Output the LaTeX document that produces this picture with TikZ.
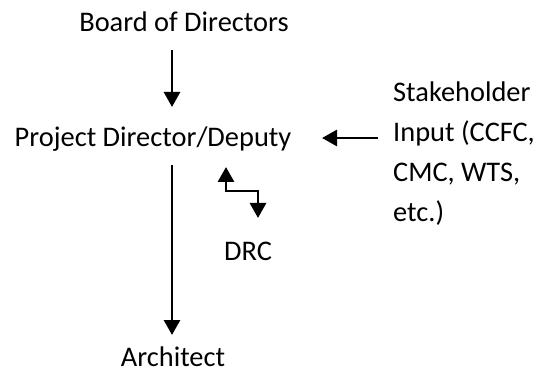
\documentclass[tikz,border=0pt]{standalone}
\usepackage{fontspec}
\setmainfont{Carlito}
\usetikzlibrary{arrows.meta}
\begin{document}
\begin{tikzpicture}[x=1pt,y=-1pt,
  lbl/.style={font=\fontsize{28.4}{40}\selectfont, inner sep=0pt, anchor=base},
  tip/.tip={Triangle[width=16pt,length=15pt]},
  arr/.style={line width=2.8pt, -tip}]
\useasboundingbox (0,0) rectangle (538,374);
\node[lbl] (board) at (184,32) {Board of Directors};
\node[lbl] (pd) at (153,147) {Project Director/Deputy};
\node[lbl, anchor=base west] (stake) at (393,102) {\begin{tabular}[t]{@{}l@{}}Stakeholder\\Input (CCFC,\\CMC, WTS,\\etc.)\end{tabular}};
\node[lbl] (drc) at (248,260) {DRC};
\node[lbl] (arch) at (173,366) {Architect};
\coordinate (b1) at (172,50);
\coordinate (b2) at (172,107);
\coordinate (s1) at (378,138);
\coordinate (s2) at (322,138);
\coordinate (p1) at (172,165);
\coordinate (p2) at (172,335);
\coordinate (z1) at (226,167);
\coordinate (z2) at (258,218);
\draw[arr] (b1) -- (b2);
\draw[arr] (s1) -- (s2);
\draw[arr] (p1) -- (p2);
\draw[line width=2.8pt, tip-tip] (z1) -- (z1 |- 0,191) -- (z2 |- 0,191) -- (z2);
\end{tikzpicture}
\end{document}
